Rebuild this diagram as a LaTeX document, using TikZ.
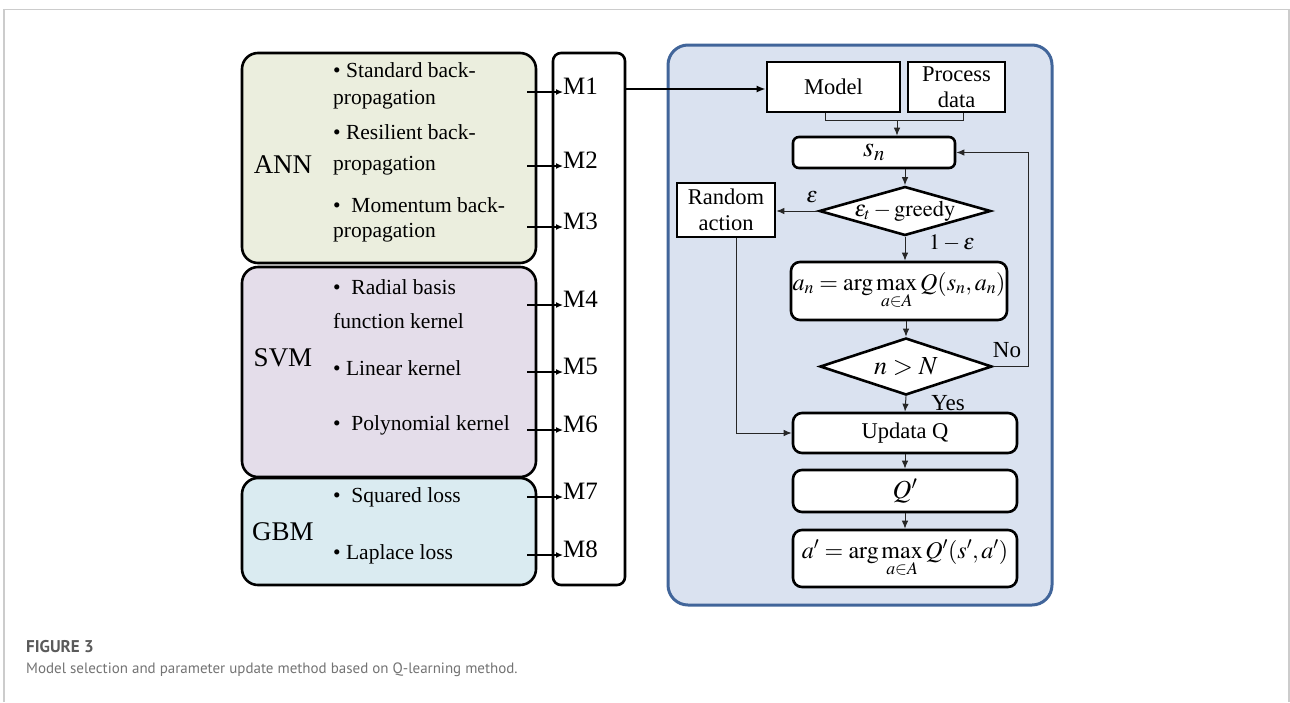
\documentclass[tikz,border=0pt]{standalone}
\usepackage{mathptmx}
\usepackage{fontspec}
\setmainfont{Liberation Serif}
\newfontfamily\capfont{PT Sans}
\usetikzlibrary{arrows.meta,shapes.geometric}
\definecolor{annfill}{HTML}{EBEEDE}
\definecolor{svmfill}{HTML}{E4DDEA}
\definecolor{gbmfill}{HTML}{DAEBF1}
\definecolor{panelfill}{HTML}{DAE2F0}
\definecolor{panelline}{HTML}{41659A}
\definecolor{framegray}{HTML}{CCCCCC}
\definecolor{capgray}{HTML}{5A5A5A}
\tikzset{
  grp/.style={draw=black, line width=2.6pt, rounded corners=16pt, inner sep=0pt},
  biglab/.style={inner sep=0pt, font=\fontsize{27}{30}\selectfont},
  item/.style={anchor=west, inner sep=0pt, text height=0.7em, text depth=0.22em, font=\fontsize{21.5}{25}\selectfont},
  mlab/.style={anchor=west, inner sep=0pt, text height=0.7em, text depth=0.2em, font=\fontsize{25}{28}\selectfont},
  marr/.style={-{Latex[length=7pt,width=6pt]}, line width=1.3pt},
  fbox/.style={draw, line width=2.6pt, fill=white, inner sep=0pt, align=center, font=\fontsize{22.5}{26}\selectfont},
  rbox/.style={fbox, rounded corners=9pt},
  dia/.style={diamond, draw, line width=2.6pt, fill=white, inner sep=0pt, aspect=3.5, font=\fontsize{22.5}{26}\selectfont},
  conn/.style={line width=1pt, draw=black!85, -{Latex[length=8pt,width=6.5pt]}},
  plain/.style={line width=1pt, draw=black!85},
  lab/.style={inner sep=0pt, font=\fontsize{22}{26}\selectfont}
}
\begin{document}
\begin{tikzpicture}[x=1pt,y=-1pt]
\useasboundingbox (0,0) rectangle (1290,702);
% frame
\draw[framegray, line width=1.5pt] (4,702) -- (4,9.5) -- (1289,9.5) -- (1289,702);
% left groups
\node[grp, fill=annfill, minimum width=294pt, minimum height=210pt] (ann) at (389,158) {};
\node[grp, fill=svmfill, minimum width=294pt, minimum height=210pt] (svm) at (389,372) {};
\node[grp, fill=gbmfill, minimum width=294pt, minimum height=107pt] (gbm) at (389,531.5) {};
\node[grp, fill=white, rounded corners=8pt, minimum width=72pt, minimum height=532pt] (mcol) at (589,319) {};
\node[biglab] (annl) at (283,165) {ANN};
\node[biglab] (svml) at (283,358) {SVM};
\node[biglab] (gbml) at (283,532) {GBM};
% items
\node[item] (i1a) at (333,75) {• Standard back-};
\node[item] (i1b) at (333,102) {propagation};
\node[item] (i2a) at (333,137) {• Resilient back-};
\node[item] (i2b) at (333,168) {propagation};
\node[item] (i3a) at (333,210) {•\ \ Momentum back-};
\node[item] (i3b) at (333,235) {propagation};
\node[item] (i4a) at (333,292) {•\ \ Radial basis};
\node[item] (i4b) at (333,326) {function kernel};
\node[item] (i5) at (333,373) {• Linear kernel};
\node[item] (i6) at (333,428) {•\ \ Polynomial kernel};
\node[item] (i7) at (333,500) {•\ \ Squared loss};
\node[item] (i8) at (333,557) {• Laplace loss};
% M labels
\foreach \k/\y in {1/92,2/166,3/227,4/305,5/372,6/430,7/497,8/555}{
  \node[mlab] (m\k) at (563,\y) {M\k};
  \coordinate (s\k) at (527,\y);
  \draw[marr] (s\k) -- (m\k.west);
}
% right panel
\node[draw=panelline, line width=3pt, fill=panelfill, rounded corners=20pt, minimum width=384pt, minimum height=560pt, inner sep=0pt] (panel) at (860,325) {};
\node[fbox, minimum width=133pt, minimum height=50pt] (model) at (833.5,87) {Model};
\node[fbox, minimum width=97pt, minimum height=50pt] (proc) at (956.5,87) {Process\\data};
\node[rbox, rounded corners=6pt, minimum width=162pt, minimum height=31pt, font=\fontsize{28}{30}\selectfont] (sn) at (874,152.5) {$s_n$};
\node[fbox, minimum width=98pt, minimum height=54pt] (rand) at (726,210) {Random\\action};
\node[dia, minimum width=170pt, minimum height=48pt] (d1) at (905,211) {$\varepsilon_t - \mathrm{greedy}$};
\node[rbox, minimum width=216pt, minimum height=58pt, font=\fontsize{24}{28}\selectfont] (an) at (899,291) {$a_n = \arg\max\limits_{a\in A} Q(s_n, a_n)$};
\node[dia, minimum width=172pt, minimum height=57pt, font=\fontsize{26}{30}\selectfont] (d2) at (906,366.5) {$n > N$};
\node[rbox, minimum width=224pt, minimum height=40pt] (upd) at (905,433) {Updata Q};
\node[rbox, minimum width=224pt, minimum height=42pt, font=\fontsize{26}{30}\selectfont] (qp) at (905,491) {$Q'$};
\node[rbox, minimum width=224pt, minimum height=57pt, font=\fontsize{24}{28}\selectfont] (ap) at (905,558.5) {$a' = \arg\max\limits_{a\in A} Q'(s', a')$};
% M1 -> Model
\draw[-{Latex[length=9pt,width=7pt]}, line width=2pt] (mcol.east |- 0,89) -- (model.west |- 0,89);
% merge
\coordinate (mj) at (897,120);
\draw[plain] (model.south -| 825,0) -- (825,120) -- (963,120) -- (proc.south -| 963,0);
\draw[conn] (mj) -- (sn.north -| mj);
\draw[conn] (sn.south -| d1) -- (d1.north);
\draw[conn] (d1.west) -- (rand.east |- d1.west);
\draw[conn] (d1.south) -- (an.north -| d1.south);
\draw[conn] (an.south -| d2.north) -- (d2.north);
\draw[conn] (d2.south) -- (upd.north);
\draw[conn] (upd.south) -- (qp.north);
\draw[conn] (qp.south) -- (ap.north);
\draw[conn] (d2.east) -- (1028,366.5) |- (sn.east);
\draw[conn] ([xshift=10pt]rand.south) |- (upd.west);
% labels
\node[lab] (leps) at (812,197) {$\varepsilon$};
\node[lab] (l1e) at (952,243) {$1-\varepsilon$};
\node[lab, font=\fontsize{23}{26}\selectfont] (lno) at (1007,350) {No};
\node[lab, font=\fontsize{23}{26}\selectfont] (lyes) at (948,403) {Yes};
% caption
\node[anchor=west, inner sep=0pt, text=capgray, font=\capfont\bfseries\fontsize{17}{20}\selectfont] (cap1) at (26,647) {FIGURE 3};
\node[anchor=west, inner sep=0pt, text=capgray!85, font=\capfont\fontsize{15}{20}\selectfont] (cap2) at (26,670) {Model selection and parameter update method based on Q-learning method.};
\end{tikzpicture}
\end{document}
